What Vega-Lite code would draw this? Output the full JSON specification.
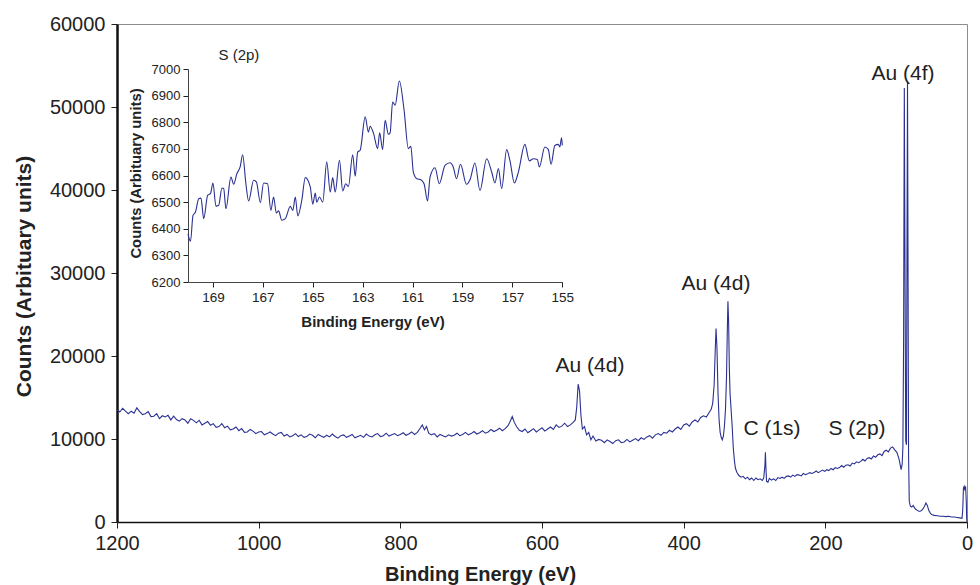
{
  "$schema": "https://vega.github.io/schema/vega-lite/v6.json",
  "width": 850,
  "height": 498,
  "autosize": {"type": "none"},
  "padding": {"left": 117, "top": 24, "right": 13, "bottom": 63},
  "background": "white",
  "config": {
    "view": {"stroke": "#8c8c8c", "strokeWidth": 1},
    "font": "Liberation Sans",
    "axis": {"grid": false, "labelColor": "#222", "titleColor": "#222", "tickColor": "#222", "domainColor": "#111", "labelFont": "Liberation Sans", "titleFont": "Liberation Sans"},
    "text": {"font": "Liberation Sans"}
  },
  "datasets": {
    "main": [
      {"E":1200,"C":13550},{"E":1196,"C":13250},{"E":1192,"C":13700},{"E":1188,"C":13350},{"E":1184,"C":13050},{"E":1180,"C":13350},{"E":1176,"C":13100},{"E":1172,"C":13750},{"E":1168,"C":13300},{"E":1164,"C":12950},{"E":1160,"C":13050},{"E":1156,"C":13300},{"E":1152,"C":12700},{"E":1148,"C":12750},{"E":1144,"C":13050},{"E":1140,"C":12450},{"E":1136,"C":12800},{"E":1132,"C":12650},{"E":1128,"C":12850},{"E":1124,"C":12300},{"E":1120,"C":12750},{"E":1116,"C":12350},{"E":1112,"C":12150},{"E":1108,"C":12450},{"E":1104,"C":12300},{"E":1100,"C":11900},{"E":1096,"C":12450},{"E":1092,"C":12250},{"E":1088,"C":11950},{"E":1084,"C":12250},{"E":1080,"C":11700},{"E":1076,"C":11900},{"E":1072,"C":12100},{"E":1068,"C":11650},{"E":1064,"C":11850},{"E":1060,"C":11400},{"E":1056,"C":11500},{"E":1052,"C":11850},{"E":1048,"C":11350},{"E":1044,"C":11550},{"E":1040,"C":11100},{"E":1036,"C":11200},{"E":1032,"C":11450},{"E":1028,"C":11000},{"E":1024,"C":11250},{"E":1020,"C":10800},{"E":1016,"C":10850},{"E":1012,"C":11150},{"E":1008,"C":10950},{"E":1004,"C":10650},{"E":1000,"C":10850},{"E":996,"C":10900},{"E":992,"C":10500},{"E":988,"C":10650},{"E":984,"C":10850},{"E":980,"C":10600},{"E":976,"C":10400},{"E":972,"C":10700},{"E":968,"C":10800},{"E":964,"C":10350},{"E":960,"C":10550},{"E":956,"C":10250},{"E":952,"C":10400},{"E":948,"C":10650},{"E":944,"C":10300},{"E":940,"C":10500},{"E":936,"C":10200},{"E":932,"C":10300},{"E":928,"C":10600},{"E":924,"C":10450},{"E":920,"C":10150},{"E":916,"C":10550},{"E":912,"C":10350},{"E":908,"C":10200},{"E":904,"C":10450},{"E":900,"C":10250},{"E":896,"C":10600},{"E":892,"C":10300},{"E":888,"C":10100},{"E":884,"C":10400},{"E":880,"C":10500},{"E":876,"C":10200},{"E":872,"C":10350},{"E":868,"C":10550},{"E":864,"C":10150},{"E":860,"C":10300},{"E":856,"C":10450},{"E":852,"C":10200},{"E":848,"C":10600},{"E":844,"C":10350},{"E":840,"C":10250},{"E":836,"C":10500},{"E":832,"C":10650},{"E":828,"C":10300},{"E":824,"C":10400},{"E":820,"C":10700},{"E":816,"C":10350},{"E":812,"C":10500},{"E":808,"C":10650},{"E":804,"C":10400},{"E":800,"C":10550},{"E":796,"C":10750},{"E":792,"C":10450},{"E":788,"C":10600},{"E":784,"C":10850},{"E":780,"C":10550},{"E":776,"C":10800},{"E":772,"C":11300},{"E":769,"C":11700},{"E":766,"C":11100},{"E":763,"C":11500},{"E":760,"C":10700},{"E":756,"C":10500},{"E":752,"C":10650},{"E":748,"C":10250},{"E":744,"C":10550},{"E":740,"C":10400},{"E":736,"C":10250},{"E":732,"C":10500},{"E":728,"C":10350},{"E":724,"C":10450},{"E":720,"C":10700},{"E":716,"C":10400},{"E":712,"C":10550},{"E":708,"C":10800},{"E":704,"C":10500},{"E":700,"C":10650},{"E":696,"C":10900},{"E":692,"C":10600},{"E":688,"C":10750},{"E":684,"C":11000},{"E":680,"C":10700},{"E":676,"C":10850},{"E":672,"C":11150},{"E":668,"C":10900},{"E":664,"C":11050},{"E":660,"C":11300},{"E":656,"C":11000},{"E":652,"C":11250},{"E":648,"C":11600},{"E":645,"C":12100},{"E":642,"C":12700},{"E":639,"C":12000},{"E":636,"C":11500},{"E":632,"C":11050},{"E":628,"C":10900},{"E":624,"C":11200},{"E":620,"C":10750},{"E":616,"C":11000},{"E":612,"C":11250},{"E":608,"C":10850},{"E":604,"C":11100},{"E":600,"C":11350},{"E":596,"C":10950},{"E":592,"C":11200},{"E":588,"C":11450},{"E":584,"C":11150},{"E":580,"C":11700},{"E":576,"C":11400},{"E":572,"C":11550},{"E":568,"C":11900},{"E":564,"C":11500},{"E":560,"C":11700},{"E":556,"C":12000},{"E":553,"C":12300},{"E":551,"C":13800},{"E":549,"C":16600},{"E":547,"C":15800},{"E":545,"C":12800},{"E":543,"C":11200},{"E":540,"C":11500},{"E":537,"C":10500},{"E":534,"C":10800},{"E":531,"C":9900},{"E":528,"C":10350},{"E":524,"C":9750},{"E":520,"C":9950},{"E":516,"C":9850},{"E":512,"C":9550},{"E":508,"C":9900},{"E":504,"C":9700},{"E":500,"C":9450},{"E":496,"C":9800},{"E":492,"C":9900},{"E":488,"C":9550},{"E":484,"C":9650},{"E":480,"C":9950},{"E":476,"C":9650},{"E":472,"C":9850},{"E":468,"C":10050},{"E":464,"C":9800},{"E":460,"C":10150},{"E":456,"C":9950},{"E":452,"C":10250},{"E":448,"C":10400},{"E":444,"C":10100},{"E":440,"C":10500},{"E":436,"C":10650},{"E":432,"C":10450},{"E":428,"C":10800},{"E":424,"C":10700},{"E":420,"C":11050},{"E":416,"C":10850},{"E":412,"C":11200},{"E":408,"C":11450},{"E":404,"C":11150},{"E":400,"C":11700},{"E":396,"C":11850},{"E":392,"C":11550},{"E":388,"C":12050},{"E":384,"C":12300},{"E":380,"C":12050},{"E":376,"C":12600},{"E":372,"C":12800},{"E":368,"C":12650},{"E":364,"C":13200},{"E":361,"C":13600},{"E":359,"C":14300},{"E":357,"C":16500},{"E":355.5,"C":20500},{"E":354.3,"C":23300},{"E":353,"C":21000},{"E":351.5,"C":15500},{"E":350,"C":12300},{"E":348.5,"C":10800},{"E":347,"C":10200},{"E":345.5,"C":9900},{"E":344,"C":10300},{"E":342.5,"C":11500},{"E":341,"C":13500},{"E":339.5,"C":17500},{"E":338.5,"C":22500},{"E":337.5,"C":26600},{"E":336.5,"C":24000},{"E":335.5,"C":18500},{"E":334.5,"C":15500},{"E":333,"C":13500},{"E":331.5,"C":11500},{"E":330,"C":9000},{"E":328.5,"C":7500},{"E":327,"C":6500},{"E":325,"C":6000},{"E":322,"C":5600},{"E":319,"C":5400},{"E":316,"C":5500},{"E":313,"C":5200},{"E":310,"C":5400},{"E":307,"C":5100},{"E":304,"C":5300},{"E":301,"C":5000},{"E":298,"C":5300},{"E":295,"C":5100},{"E":292,"C":5200},{"E":289,"C":5000},{"E":287,"C":5300},{"E":285.3,"C":6800},{"E":284.6,"C":8400},{"E":283.8,"C":6400},{"E":283,"C":4900},{"E":281,"C":4800},{"E":279,"C":5250},{"E":276,"C":5050},{"E":273,"C":5200},{"E":270,"C":5000},{"E":267,"C":5350},{"E":264,"C":5250},{"E":261,"C":5400},{"E":258,"C":5250},{"E":255,"C":5500},{"E":252,"C":5550},{"E":249,"C":5400},{"E":246,"C":5650},{"E":243,"C":5500},{"E":240,"C":5700},{"E":237,"C":5650},{"E":234,"C":5550},{"E":231,"C":5850},{"E":228,"C":5700},{"E":225,"C":5800},{"E":222,"C":5950},{"E":219,"C":5850},{"E":216,"C":5950},{"E":213,"C":6150},{"E":210,"C":5950},{"E":207,"C":6100},{"E":204,"C":6250},{"E":201,"C":6100},{"E":198,"C":6300},{"E":195,"C":6200},{"E":192,"C":6450},{"E":189,"C":6300},{"E":186,"C":6550},{"E":183,"C":6450},{"E":180,"C":6550},{"E":177,"C":6800},{"E":174,"C":6600},{"E":171,"C":6850},{"E":168,"C":6900},{"E":165,"C":6750},{"E":162,"C":7100},{"E":159,"C":7000},{"E":156,"C":7250},{"E":153,"C":7150},{"E":150,"C":7300},{"E":147,"C":7550},{"E":144,"C":7350},{"E":141,"C":7650},{"E":138,"C":7750},{"E":135,"C":7600},{"E":132,"C":7950},{"E":129,"C":7800},{"E":126,"C":8100},{"E":123,"C":8200},{"E":120,"C":8000},{"E":117,"C":8500},{"E":114,"C":8650},{"E":111,"C":8450},{"E":108,"C":8900},{"E":105,"C":9050},{"E":102,"C":8700},{"E":99,"C":8400},{"E":96,"C":7600},{"E":93,"C":6300},{"E":91.5,"C":7000},{"E":90.5,"C":9000},{"E":89.5,"C":22000},{"E":88.5,"C":52300},{"E":87.5,"C":30000},{"E":86.5,"C":9800},{"E":85.5,"C":9300},{"E":84.8,"C":30000},{"E":84,"C":53000},{"E":83.2,"C":30000},{"E":82.5,"C":8000},{"E":81.5,"C":2500},{"E":80,"C":1900},{"E":78,"C":1800},{"E":76,"C":2000},{"E":74,"C":1700},{"E":72,"C":1500},{"E":70,"C":1400},{"E":68,"C":1300},{"E":66,"C":1300},{"E":64,"C":1400},{"E":62,"C":1600},{"E":60,"C":1900},{"E":58,"C":2300},{"E":56,"C":2000},{"E":54,"C":1400},{"E":52,"C":1100},{"E":50,"C":900},{"E":46,"C":800},{"E":42,"C":750},{"E":38,"C":700},{"E":34,"C":700},{"E":30,"C":650},{"E":26,"C":700},{"E":22,"C":600},{"E":18,"C":600},{"E":14,"C":550},{"E":10,"C":500},{"E":7,"C":450},{"E":6,"C":1500},{"E":5,"C":4100},{"E":4,"C":4300},{"E":3,"C":3800},{"E":2,"C":4300},{"E":1,"C":2500},{"E":0.5,"C":500},{"E":0,"C":0}
    ],
    "labels": [
      {"E":90.4,"C":53976,"label":"Au (4f)"},
      {"E":354.4,"C":28675,"label":"Au (4d)"},
      {"E":532.2,"C":18795,"label":"Au (4d)"},
      {"E":275.3,"C":11205,"label":"C (1s)"},
      {"E":155.3,"C":11205,"label":"S (2p)"}
    ],
    "inset": [
      {"e":170.0,"c":6381},{"e":169.9,"c":6353},{"e":169.8,"c":6450},{"e":169.7,"c":6463},{"e":169.57,"c":6513},{"e":169.48,"c":6515},{"e":169.37,"c":6438},{"e":169.21,"c":6526},{"e":169.1,"c":6532},{"e":169.0,"c":6572},{"e":168.88,"c":6485},{"e":168.77,"c":6488},{"e":168.64,"c":6553},{"e":168.57,"c":6551},{"e":168.48,"c":6475},{"e":168.28,"c":6594},{"e":168.17,"c":6567},{"e":168.04,"c":6607},{"e":167.91,"c":6632},{"e":167.81,"c":6678},{"e":167.68,"c":6569},{"e":167.57,"c":6504},{"e":167.37,"c":6582},{"e":167.26,"c":6576},{"e":167.1,"c":6498},{"e":166.97,"c":6572},{"e":166.81,"c":6569},{"e":166.68,"c":6469},{"e":166.57,"c":6519},{"e":166.46,"c":6459},{"e":166.37,"c":6467},{"e":166.24,"c":6432},{"e":166.1,"c":6438},{"e":165.9,"c":6484},{"e":165.8,"c":6469},{"e":165.7,"c":6519},{"e":165.6,"c":6448},{"e":165.44,"c":6507},{"e":165.3,"c":6592},{"e":165.1,"c":6557},{"e":165.0,"c":6492},{"e":164.9,"c":6534},{"e":164.84,"c":6500},{"e":164.73,"c":6519},{"e":164.6,"c":6500},{"e":164.44,"c":6651},{"e":164.3,"c":6538},{"e":164.2,"c":6592},{"e":164.1,"c":6538},{"e":163.93,"c":6657},{"e":163.8,"c":6542},{"e":163.68,"c":6569},{"e":163.57,"c":6559},{"e":163.4,"c":6678},{"e":163.3,"c":6597},{"e":163.2,"c":6688},{"e":163.1,"c":6695},{"e":162.9,"c":6820},{"e":162.77,"c":6763},{"e":162.7,"c":6785},{"e":162.57,"c":6760},{"e":162.4,"c":6701},{"e":162.32,"c":6760},{"e":162.2,"c":6697},{"e":162.1,"c":6807},{"e":161.97,"c":6755},{"e":161.9,"c":6760},{"e":161.8,"c":6876},{"e":161.7,"c":6864},{"e":161.53,"c":6955},{"e":161.34,"c":6845},{"e":161.17,"c":6701},{"e":161.07,"c":6710},{"e":160.97,"c":6613},{"e":160.83,"c":6588},{"e":160.67,"c":6584},{"e":160.54,"c":6569},{"e":160.4,"c":6504},{"e":160.3,"c":6594},{"e":160.1,"c":6629},{"e":159.93,"c":6569},{"e":159.7,"c":6638},{"e":159.5,"c":6648},{"e":159.37,"c":6632},{"e":159.24,"c":6588},{"e":159.08,"c":6642},{"e":158.84,"c":6567},{"e":158.7,"c":6584},{"e":158.5,"c":6647},{"e":158.3,"c":6544},{"e":158.03,"c":6663},{"e":157.83,"c":6613},{"e":157.7,"c":6572},{"e":157.56,"c":6626},{"e":157.43,"c":6551},{"e":157.23,"c":6697},{"e":157.1,"c":6657},{"e":156.92,"c":6572},{"e":156.76,"c":6613},{"e":156.5,"c":6717},{"e":156.32,"c":6655},{"e":156.16,"c":6663},{"e":156.0,"c":6660},{"e":155.92,"c":6632},{"e":155.7,"c":6707},{"e":155.56,"c":6697},{"e":155.45,"c":6642},{"e":155.3,"c":6713},{"e":155.16,"c":6717},{"e":155.1,"c":6707},{"e":155.03,"c":6742},{"e":155.0,"c":6713}
    ],
    "insetLabel": [
      {"e":167.96,"c":7053,"label":"S (2p)"}
    ]
  },
  "layer": [
    {
      "layer": [
        {
          "data": {"name": "main"},
          "mark": {"type": "line", "color": "#2a3192", "strokeWidth": 1.1},
          "encoding": {
            "x": {"field": "E", "type": "quantitative",
              "scale": {"domain": [0, 1200], "reverse": true, "nice": false, "zero": false},
              "axis": {"orient": "bottom", "values": [1200, 1000, 800, 600, 400, 200, 0], "format": "d", "title": "Binding Energy (eV)", "labelFontSize": 20, "titleFontSize": 20, "titleFontWeight": "bold", "tickSize": 6, "labelPadding": 5, "domainWidth": 1.5, "labelFlush": false, "titleX": 363, "titleY": 58, "titleBaseline": "alphabetic", "titleAlign": "center"}},
            "y": {"field": "C", "type": "quantitative",
              "scale": {"domain": [0, 60000], "nice": false},
              "axis": {"orient": "left", "values": [0, 10000, 20000, 30000, 40000, 50000, 60000], "format": "d", "title": "Counts (Arbituary units)", "labelFontSize": 20, "titleFontSize": 21, "titleFontWeight": "bold", "tickSize": 6, "labelPadding": 6, "domainWidth": 2.5, "labelFlush": false, "titleX": -87, "titleY": 252, "titleBaseline": "alphabetic", "titleAlign": "center", "titleAngle": -90}}
          }
        },
        {
          "data": {"name": "labels"},
          "mark": {"type": "text", "fontSize": 21, "color": "#222", "baseline": "middle", "align": "center"},
          "encoding": {
            "x": {"field": "E", "type": "quantitative"},
            "y": {"field": "C", "type": "quantitative"},
            "text": {"field": "label"}
          }
        }
      ]
    },
    {
      "layer": [
        {
          "data": {"name": "inset"},
          "mark": {"type": "line", "color": "#2a3192", "strokeWidth": 1.1, "interpolate": "monotone"},
          "encoding": {
            "x": {"field": "e", "type": "quantitative",
              "scale": {"domain": [155, 170], "range": [445.3, 71], "nice": false, "zero": false},
              "axis": {"orient": "bottom", "offset": -240, "values": [169, 167, 165, 163, 161, 159, 157, 155], "format": "d", "title": "Binding Energy (eV)", "labelFontSize": 13.5, "titleFontSize": 15, "titleFontWeight": "bold", "tickSize": 5, "labelPadding": 3, "domainColor": "#444", "labelFlush": false, "titleX": 255.5, "titleY": 44.7, "titleBaseline": "alphabetic", "titleAlign": "center"}},
            "y": {"field": "c", "type": "quantitative",
              "scale": {"domain": [6200, 7000], "range": [258, 45], "nice": false, "zero": false},
              "axis": {"orient": "left", "offset": -71, "values": [6200, 6300, 6400, 6500, 6600, 6700, 6800, 6900, 7000], "format": "d", "title": "Counts (Arbituary units)", "labelFontSize": 13, "titleFontSize": 14.8, "titleFontWeight": "bold", "tickSize": 5, "labelPadding": 3, "domainColor": "#444", "labelFlush": false, "labelOverlap": false, "titleX": -48, "titleY": 149, "titleBaseline": "alphabetic", "titleAlign": "center", "titleAngle": -90}}
          }
        },
        {
          "data": {"name": "insetLabel"},
          "mark": {"type": "text", "fontSize": 15, "color": "#222", "baseline": "middle", "align": "center"},
          "encoding": {
            "x": {"field": "e", "type": "quantitative"},
            "y": {"field": "c", "type": "quantitative"},
            "text": {"field": "label"}
          }
        }
      ]
    }
  ],
  "resolve": {"scale": {"x": "independent", "y": "independent"}, "axis": {"x": "independent", "y": "independent"}}
}
